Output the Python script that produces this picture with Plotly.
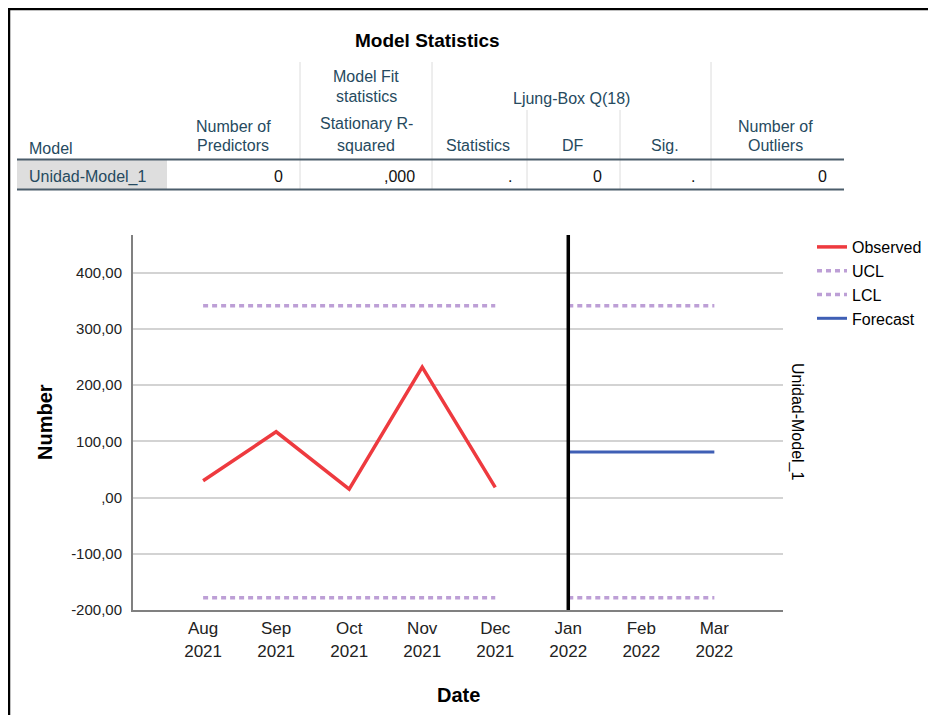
import plotly.graph_objects as go

# ---------------- data ----------------
months = ["Aug 2021", "Sep 2021", "Oct 2021", "Nov 2021", "Dec 2021",
          "Jan 2022", "Feb 2022", "Mar 2022"]
tick_labels = ["Aug<br>2021", "Sep<br>2021", "Oct<br>2021", "Nov<br>2021", "Dec<br>2021",
               "Jan<br>2022", "Feb<br>2022", "Mar<br>2022"]
observed_months = ["Aug 2021", "Sep 2021", "Oct 2021", "Nov 2021", "Dec 2021"]
observed = [30, 117, 15, 232, 18]
forecast_months = ["Jan 2022", "Feb 2022", "Mar 2022"]
forecast = [81, 81, 81]
ucl_fit = [341, 341, 341, 341, 341]
lcl_fit = [-178, -178, -178, -178, -178]
ucl_fc = [341, 341, 341]
lcl_fc = [-178, -178, -178]
forecast_start = "Jan 2022"

y_tickvals = [-200, -100, 0, 100, 200, 300, 400]
y_ticktext = ["-200,00", "-100,00", ",00", "100,00", "200,00", "300,00", "400,00"]

# table contents
table_title = "Model Statistics"
table_row = ["Unidad-Model_1", "0", ",000", ".", "0", ".", "0"]

# ---------------- helpers (screen pixel coords -> paper) ----------------
OFF = 8                      # page body margin
W, H = 936 - OFF, 715 - OFF
L, T, R, B = 133, 235, 783, 610   # plot area in screen pixels


def px(x):
    return (x - L) / (R - L)


def py(y):
    return (B - y) / (B - T)


idx = {m: i for i, m in enumerate(months)}
x_obs = [idx[m] for m in observed_months]
x_fc = [idx[m] for m in forecast_months]

# UCL / LCL: fit segment and forecast segment separated by a gap
ucl_x = x_obs + [None] + x_fc
ucl_y = ucl_fit + [None] + ucl_fc
lcl_x = x_obs + [None] + x_fc
lcl_y = lcl_fit + [None] + lcl_fc

FONT = "Liberation Sans, Arial, sans-serif"
PURPLE = "#bd9fd6"

fig = go.Figure()
fig.add_trace(go.Scatter(x=x_obs, y=observed, mode="lines", name="Observed",
                         line=dict(color="#ee3a3f", width=3.5)))
fig.add_trace(go.Scatter(x=ucl_x, y=ucl_y, mode="lines", name="UCL",
                         line=dict(color=PURPLE, width=3.5, dash="5px,4px")))
fig.add_trace(go.Scatter(x=lcl_x, y=lcl_y, mode="lines", name="LCL",
                         line=dict(color=PURPLE, width=3.5, dash="5px,4px")))
fig.add_trace(go.Scatter(x=x_fc, y=forecast, mode="lines", name="Forecast",
                         line=dict(color="#3f5fb5", width=3)))

shapes = []
annotations = []

# forecast-start reference line
shapes.append(dict(type="line", xref="x", yref="paper",
                   x0=idx[forecast_start], x1=idx[forecast_start], y0=0, y1=1,
                   line=dict(color="black", width=3.5), layer="above"))

# outer frame (left and top)
shapes.append(dict(type="line", xref="paper", yref="paper",
                   x0=px(9), x1=px(9), y0=py(8), y1=py(720),
                   line=dict(color="black", width=2.5)))
shapes.append(dict(type="line", xref="paper", yref="paper",
                   x0=px(8), x1=px(940), y0=py(9), y1=py(9),
                   line=dict(color="black", width=2.5)))

# ---------------- table ----------------
HDR = "#264a60"
TL, TR = 17, 844
# grey row-label cell
shapes.append(dict(type="rect", xref="paper", yref="paper",
                   x0=px(TL), x1=px(167), y0=py(160), y1=py(189),
                   fillcolor="#dedede", line=dict(width=0), layer="below"))
# vertical separators
for xv, ytop in [(300, 62), (432, 62), (527, 110), (620, 110), (711, 62)]:
    shapes.append(dict(type="line", xref="paper", yref="paper",
                       x0=px(xv), x1=px(xv), y0=py(ytop), y1=py(189),
                       line=dict(color="#dcdcdc", width=1)))
# horizontal rules
for yv in [159.5, 189.5]:
    shapes.append(dict(type="line", xref="paper", yref="paper",
                       x0=px(TL), x1=px(TR), y0=py(yv), y1=py(yv),
                       line=dict(color="#4b5d6b", width=2)))


def txt(x, y, s, size=16, color=HDR, xanchor="center", bold=False):
    annotations.append(dict(xref="paper", yref="paper", x=px(x), y=py(y),
                            text=f"<b>{s}</b>" if bold else s, showarrow=False,
                            xanchor=xanchor, yanchor="middle",
                            font=dict(family=FONT, size=size, color=color)))


txt(427, 40, table_title, size=19, color="black", bold=True)
txt(27, 148, "Model", xanchor="left")
txt(233, 126, "Number of")
txt(233, 145, "Predictors")
txt(366, 76, "Model Fit")
txt(366, 96, "statistics")
txt(366, 124, "Stationary R-")
txt(366, 145, "squared")
txt(571, 98, "Ljung-Box Q(18)")
txt(478, 145, "Statistics")
txt(573, 145, "DF")
txt(665, 145, "Sig.")
txt(775, 126, "Number of")
txt(775, 145, "Outliers")

txt(27, 177, table_row[0], xanchor="left")
for xr, s in zip([285, 417, 514, 604, 697, 829], table_row[1:]):
    txt(xr, 177, s, color="#111111", xanchor="right")

# ---------------- chart annotations ----------------
txt(458, 695, "Date", size=20, color="black", bold=True)
annotations.append(dict(xref="paper", yref="paper", x=px(45), y=py(422),
                        text="<b>Number</b>", showarrow=False, textangle=-90,
                        xanchor="center", yanchor="middle",
                        font=dict(family=FONT, size=20, color="black")))
annotations.append(dict(xref="paper", yref="paper", x=px(797), y=py(422),
                        text="Unidad-Model_1", showarrow=False, textangle=90,
                        xanchor="center", yanchor="middle",
                        font=dict(family=FONT, size=16, color="black")))

fig.update_layout(
    width=W, height=H,
    margin=dict(l=L - OFF, r=W - (R - OFF), t=T - OFF, b=H - (B - OFF),
                autoexpand=False),
    paper_bgcolor="white", plot_bgcolor="white",
    font=dict(family=FONT, color="#222222"),
    showlegend=True,
    legend=dict(x=px(812), y=py(230), xanchor="left", yanchor="top",
                font=dict(family=FONT, size=16, color="black"),
                bgcolor="rgba(0,0,0,0)", tracegroupgap=0,
                itemwidth=30),
    shapes=shapes,
    annotations=annotations,
    xaxis=dict(range=[-0.96, 7.94], tickmode="array",
               tickvals=list(range(len(months))), ticktext=tick_labels,
               showgrid=False, zeroline=False, showline=True,
               linecolor="#808080", linewidth=2, ticks="outside", ticklen=2,
               tickcolor="rgba(0,0,0,0)",
               tickfont=dict(family=FONT, size=17, color="#222222")),
    yaxis=dict(range=[-200, 467], tickmode="array",
               tickvals=y_tickvals, ticktext=y_ticktext,
               showgrid=True, gridcolor="#d3d3d3", gridwidth=1.5,
               zeroline=False, showline=True,
               linecolor="#808080", linewidth=2,
               ticks="outside", ticklen=6, tickcolor="rgba(0,0,0,0)",
               tickfont=dict(family=FONT, size=15, color="#222222")),
)

fig.write_html("out.html")
